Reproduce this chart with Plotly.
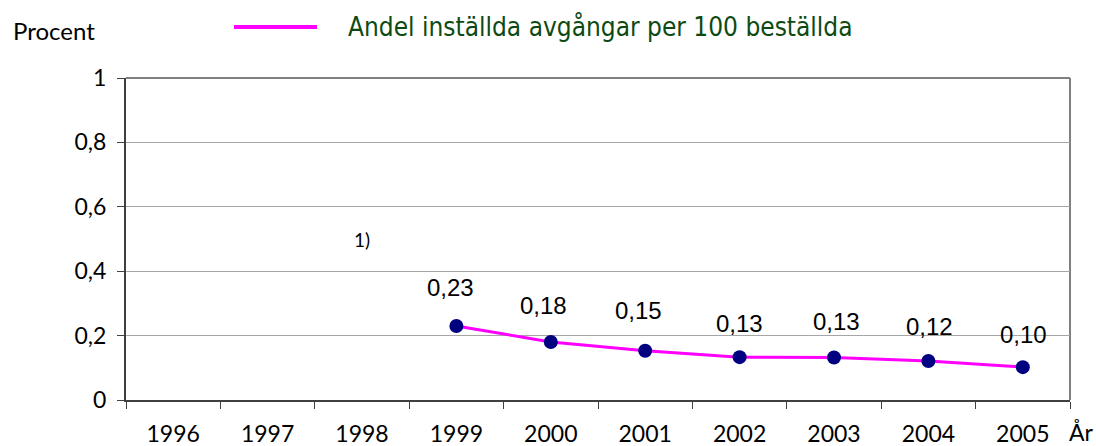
import plotly.graph_objects as go

# ---- data ----
categories = ["1996", "1997", "1998", "1999", "2000", "2001", "2002", "2003", "2004", "2005"]
years = ["1999", "2000", "2001", "2002", "2003", "2004", "2005"]
values = [0.23, 0.18, 0.153, 0.133, 0.132, 0.121, 0.102]
value_labels = ["0,23", "0,18", "0,15", "0,13", "0,13", "0,12", "0,10"]
y_tickvals = [0, 0.2, 0.4, 0.6, 0.8, 1]
y_ticktext = ["0", "0,2", "0,4", "0,6", "0,8", "1"]
series_name = "Andel inställda avgångar per 100 beställda"
footnote_year = "1998"
footnote_text = "1)"
footnote_level = 0.5

# label offsets (pixels) – styling only
label_dx = [-6, -7, -7, 0, 2, 1, 1]
label_dy = [38, 37, 40, 34, 36, 35, 33]

fig = go.Figure()
fig.add_trace(go.Scatter(
    x=years, y=values, mode="lines+markers", name=series_name,
    line=dict(color="#ff00ff", width=3),
    marker=dict(color="#000080", size=14),
    showlegend=False, cliponaxis=False,
))

annotations = []
for yr, v, t, dx, dy in zip(years, values, value_labels, label_dx, label_dy):
    annotations.append(dict(
        x=categories.index(yr), y=v, xref="x", yref="y", text=t, showarrow=False,
        xshift=dx, yshift=dy,
        font=dict(family="Liberation Sans, Arial", size=24, color="#000000"),
    ))

# footnote marker for 1998
annotations.append(dict(x=categories.index(footnote_year), y=footnote_level, xref="x", yref="y",
                        text=footnote_text, showarrow=False,
                        font=dict(family="Lato", size=19, color="#000000")))
# axis titles
annotations.append(dict(x=-0.1215, y=1.146, xref="paper", yref="paper", text="Procent",
                        showarrow=False, xanchor="left", yanchor="middle",
                        font=dict(family="Lato", size=24, color="#000000")))
annotations.append(dict(x=0.9965, y=-0.1, xref="paper", yref="paper", text="År",
                        showarrow=False, xanchor="left", yanchor="middle",
                        font=dict(family="Lato", size=23, color="#000000")))
# legend text
annotations.append(dict(x=0.2335, y=1.158, xref="paper", yref="paper", text=series_name,
                        showarrow=False, xanchor="left", yanchor="middle",
                        font=dict(family="DejaVu Sans Condensed, DejaVu Sans", size=26, color="#0d4a12")))

shapes = [
    # legend line
    dict(type="line", xref="paper", yref="paper", x0=0.1144, x1=0.2023, y0=1.1584, y1=1.1584,
         line=dict(color="#ff00ff", width=4)),
    # top and right frame (gray)
    dict(type="line", xref="paper", yref="paper", x0=0, x1=1, y0=1, y1=1,
         line=dict(color="#808080", width=2), layer="below"),
    dict(type="line", xref="paper", yref="paper", x0=1, x1=1, y0=0, y1=1,
         line=dict(color="#808080", width=2), layer="below"),
]

fig.update_layout(
    width=1096, height=446,
    margin=dict(l=126, r=26, t=78, b=46, autoexpand=False),
    paper_bgcolor="white", plot_bgcolor="white",
    annotations=annotations, shapes=shapes,
    showlegend=False,
)
fig.update_xaxes(
    type="category", categoryorder="array", categoryarray=categories,
    tickmode="array", tickvals=categories, ticktext=categories,
    range=[-0.5, 9.5], tickson="boundaries", automargin=False,
    showgrid=False, zeroline=False,
    showline=True, linecolor="#404040", linewidth=2,
    ticks="outside", ticklen=7, tickwidth=1, tickcolor="#404040",
    tickfont=dict(family="Lato", size=23, color="#000000"),
    ticklabelstandoff=12,
)
fig.update_yaxes(
    range=[0, 1], tickmode="array", tickvals=y_tickvals, ticktext=y_ticktext,
    automargin=False,
    showgrid=True, gridcolor="#a6a6a6", gridwidth=1, zeroline=False,
    showline=True, linecolor="#404040", linewidth=2,
    ticks="outside", ticklen=7, tickwidth=1, tickcolor="#404040",
    tickfont=dict(family="Lato", size=23, color="#000000"),
    ticklabelstandoff=6,
)

fig.write_html(
    "out.html",
    config={"displayModeBar": False},
    post_script="document.body.style.margin='0';document.body.style.overflow='hidden';",
)
